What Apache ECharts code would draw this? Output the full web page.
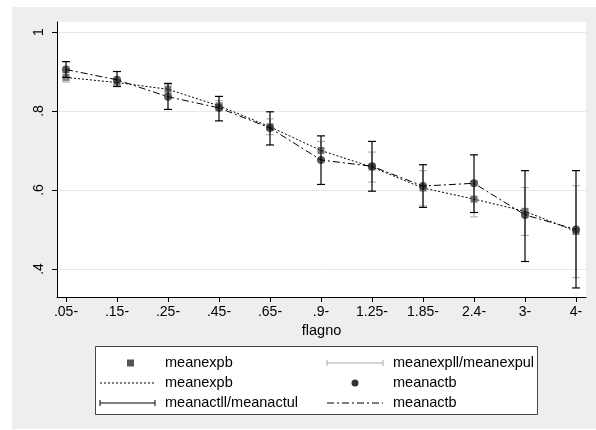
<!DOCTYPE html>
<html>
<head>
<meta charset="utf-8">
<script src="https://cdn.jsdelivr.net/npm/echarts@6/dist/echarts.min.js"></script>
<style>
html,body{margin:0;padding:0;background:#fff;}
#c{width:596px;height:430px;}
</style>
</head>
<body>
<div id="c"></div>
<script>
var categories = ['.05-','.15-','.25-','.45-','.65-','.9-','1.25-','1.85-','2.4-','3-','4-'];
var meanexpb  = [0.885,0.872,0.855,0.813,0.760,0.700,0.658,0.605,0.577,0.546,0.495];
var meanexpll = [0.873,0.864,0.843,0.800,0.740,0.678,0.620,0.560,0.532,0.485,0.378];
var meanexpul = [0.897,0.881,0.867,0.826,0.780,0.723,0.696,0.649,0.622,0.606,0.611];
var meanactb  = [0.905,0.879,0.836,0.808,0.757,0.676,0.660,0.610,0.617,0.537,0.500];
var meanactll = [0.885,0.862,0.804,0.775,0.714,0.614,0.597,0.556,0.543,0.419,0.352];
var meanactul = [0.925,0.900,0.870,0.837,0.798,0.737,0.723,0.664,0.689,0.649,0.649];
var yTicks = [0.4, 0.6, 0.8, 1];
var yTickLabels = ['.4', '.6', '.8', '1'];
var legendLabels = ['meanexpb','meanexpll/meanexpul','meanexpb','meanactb','meanactll/meanactul','meanactb'];

var FONT = '"Liberation Sans", Arial, sans-serif';
var idx = categories.map(function(_, i){ return i; });

function pts(arr){ return arr.map(function(v,i){ return [i, v]; }); }
function bars(lo, hi){ return lo.map(function(v,i){ return [i, v, hi[i]]; }); }

function capRender(color, width){
  return function(params, api){
    var x = api.value(0);
    var p1 = api.coord([x, api.value(1)]);
    var p2 = api.coord([x, api.value(2)]);
    var hw = 4;
    var st = {stroke: color, lineWidth: width};
    return {type:'group', children:[
      {type:'line', shape:{x1:p1[0], y1:p1[1], x2:p2[0], y2:p2[1]}, style:st},
      {type:'line', shape:{x1:p1[0]-hw, y1:p1[1], x2:p1[0]+hw, y2:p1[1]}, style:st},
      {type:'line', shape:{x1:p2[0]-hw, y1:p2[1], x2:p2[0]+hw, y2:p2[1]}, style:st}
    ]};
  };
}

var chart = echarts.init(document.getElementById('c'), null, {renderer:'canvas'});

// legend graphics
var LX1 = 95, LY1 = 346, LX2 = 537, LY2 = 414;
var rows = [363, 383, 403];
var c1s = 100, c1e = 155, c1t = 165;
var c2s = 327, c2e = 383, c2t = 393;
function txt(x, y, s){ return {type:'text', left:x, top:y-8, style:{text:s, font:'14.5px ' + FONT, fill:'#000'}}; }
function capLine(x1, x2, y, color){
  return [
    {type:'line', shape:{x1:x1, y1:y, x2:x2, y2:y}, style:{stroke:color, lineWidth:1}},
    {type:'line', shape:{x1:x1, y1:y-3, x2:x1, y2:y+3}, style:{stroke:color, lineWidth:1}},
    {type:'line', shape:{x1:x2, y1:y-3, x2:x2, y2:y+3}, style:{stroke:color, lineWidth:1}}
  ];
}
var graphics = [
  {type:'rect', shape:{x:12, y:7, width:584, height:422}, style:{fill:'#eeeeee'}, z:-10, silent:true},
  {type:'rect', shape:{x:LX1+0.5, y:LY1+0.5, width:LX2-LX1, height:LY2-LY1}, style:{fill:'#fff', stroke:'#444', lineWidth:1}},
  {type:'rect', shape:{x:127, y:rows[0]-3.5, width:7, height:7}, style:{fill:'#555'}},
  txt(c1t, rows[0], legendLabels[0]),
  txt(c2t, rows[0], legendLabels[1]),
  {type:'line', shape:{x1:c1s, y1:rows[1], x2:c1e, y2:rows[1]}, style:{stroke:'#000', lineWidth:1, lineDash:[2,2]}},
  txt(c1t, rows[1], legendLabels[2]),
  {type:'circle', shape:{cx:355, cy:rows[1], r:3.5}, style:{fill:'#333'}},
  txt(c2t, rows[1], legendLabels[3]),
  txt(c1t, rows[2], legendLabels[4]),
  {type:'line', shape:{x1:c2s, y1:rows[2], x2:c2e, y2:rows[2]}, style:{stroke:'#000', lineWidth:1, lineDash:[7,3,2,3]}},
  txt(c2t, rows[2], legendLabels[5])
].concat(capLine(c2s, c2e, rows[0], '#aaaaaa')).concat(capLine(c1s, c1e, rows[2], '#000'));

var option = {
  animation: false,
  backgroundColor: '#fff',
  textStyle: {fontFamily: FONT},
  grid: {left:57, right:10, top:22, bottom:133, show:true, backgroundColor:'#fff', borderWidth:0},
  xAxis: {
    type:'value', min:-9/51, max:10+10/51,
    name:'flagno', nameLocation:'middle', nameGap:24,
    nameTextStyle:{fontSize:14.5, color:'#000', fontFamily:FONT},
    axisLine:{show:true, onZero:false, lineStyle:{color:'#000', width:1}},
    axisTick:{show:true, length:5, lineStyle:{color:'#000'}, customValues: idx},
    axisLabel:{show:true, color:'#000', fontSize:14, margin:8, fontFamily:FONT, customValues: idx,
      formatter:function(v){ return categories[Math.round(v)]; }},
    splitLine:{show:false}
  },
  yAxis: {
    type:'value', min:0.4 - 28/395, max:1 + 10/395,
    axisLine:{show:true, onZero:false, lineStyle:{color:'#000', width:1}},
    axisTick:{show:true, length:5, lineStyle:{color:'#000'}, customValues: yTicks},
    axisLabel:{show:true, color:'#000', fontSize:14, margin:11, rotate:90, fontFamily:FONT, customValues: yTicks,
      formatter:function(v){ var i = yTicks.indexOf(v); if(i<0){ for(var k=0;k<yTicks.length;k++){ if(Math.abs(yTicks[k]-v)<1e-6) i=k; } } return i>=0 ? yTickLabels[i] : ''; }},
    splitLine:{show:true, lineStyle:{color:'#e8e8e8', width:1}}
  },
  series: [
    {name:'meanexpb', type:'scatter', data:pts(meanexpb), symbol:'rect', symbolSize:7, itemStyle:{color:'#555'}, z:2},
    {name:'meanexpll/meanexpul', type:'custom', data:bars(meanexpll, meanexpul), renderItem:capRender('#aaaaaa', 1), z:3},
    {name:'meanexpb ', type:'line', data:pts(meanexpb), symbol:'none', lineStyle:{color:'#000', width:1, type:[2,2]}, z:4},
    {name:'meanactb', type:'scatter', data:pts(meanactb), symbol:'circle', symbolSize:8, itemStyle:{color:'#333'}, z:5},
    {name:'meanactll/meanactul', type:'custom', data:bars(meanactll, meanactul), renderItem:capRender('#000', 1.2), z:6},
    {name:'meanactb ', type:'line', data:pts(meanactb), symbol:'none', lineStyle:{color:'#000', width:1, type:[7,3,2,3]}, z:7}
  ],
  graphic: graphics
};
chart.setOption(option);
</script>
</body>
</html>
